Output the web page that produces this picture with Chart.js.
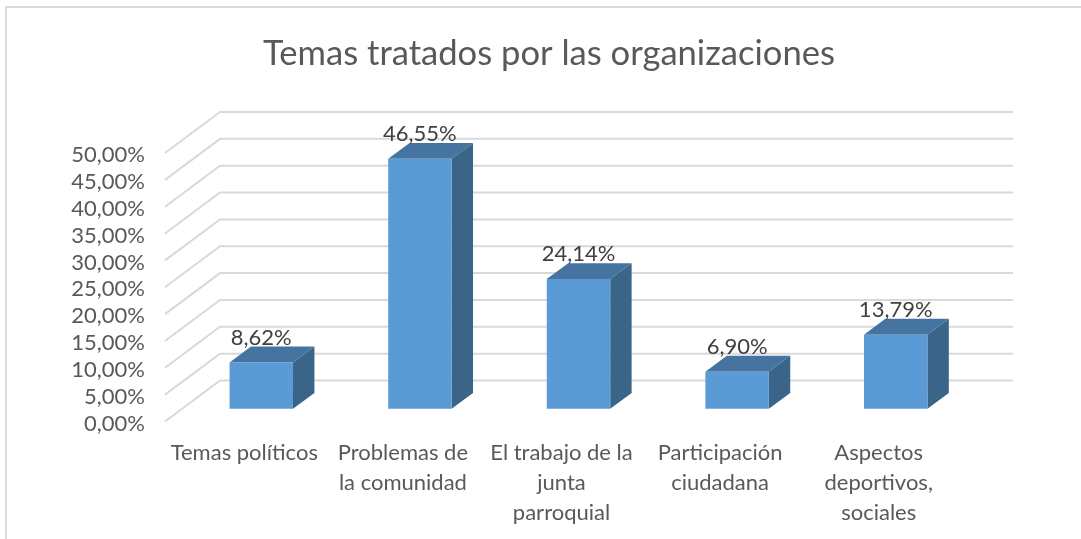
<!DOCTYPE html>
<html><head><meta charset="utf-8">
<style>html,body{margin:0;padding:0;background:#fff}canvas{display:block}</style>
<script src="https://cdn.jsdelivr.net/npm/chart.js@4"></script>
</head><body>
<canvas id="c" width="1081" height="539"></canvas>
<script>
const titleText = 'Temas tratados por las organizaciones';
const categories = [
  ['Temas políticos'],
  ['Problemas de','la comunidad'],
  ['El trabajo de la','junta','parroquial'],
  ['Participación','ciudadana'],
  ['Aspectos','deportivos,','sociales']
];
const seriesValues = [8.62, 46.55, 24.14, 6.90, 13.79];
const axisMin = 0, axisMax = 50, axisStep = 5;

const FONT = 'Lato, Carlito, sans-serif';
const fmt = v => v.toFixed(2).replace('.', ',') + '%';
const WALL = {dx: 55, dy: -41};      // floor depth of the oblique projection
const BAR_OFF = {dx: 17, dy: -12.8}; // bar front plane
const BAR_DEPTH = {dx: 21.4, dy: -15.8};
const COL = {front:'#5b9bd5', top:'#44749f', side:'#3a6488', grid:'#d9d9d9', text:'#404040', axis:'#595959', title:'#595959'};

const threeD = {
  id: 'threeD',
  afterUpdate(chart){
    // nudge value-axis labels down to sit on the Calibri-like baseline of the original
    const y = chart.scales.y;
    if (!y._nudged) {
      const orig = y.drawLabels.bind(y);
      y.drawLabels = function(area){
        const c = chart.ctx; c.save(); c.translate(0, 2); orig(area); c.restore();
      };
      y._nudged = true;
    }
  },
  beforeDraw(chart){
    const c = chart.ctx;
    c.save(); c.strokeStyle = COL.grid; c.lineWidth = 2;
    c.beginPath(); c.moveTo(6, 539); c.lineTo(6, 7); c.lineTo(1081, 7); c.stroke();
    c.restore();
  },
  beforeDatasetsDraw(chart){
    const c = chart.ctx, y = chart.scales.y, a = chart.chartArea;
    c.save(); c.strokeStyle = COL.grid; c.lineWidth = 2; c.lineJoin = 'miter';
    y.ticks.forEach(t => {
      const py = y.getPixelForValue(t.value);
      c.beginPath();
      c.moveTo(a.left, py);
      c.lineTo(a.left + WALL.dx, py + WALL.dy);
      c.lineTo(a.right + WALL.dx, py + WALL.dy);
      c.stroke();
    });
    c.restore();
  },
  beforeDatasetDraw(chart, args){
    const c = chart.ctx;
    c.save();
    c.translate(BAR_OFF.dx, BAR_OFF.dy);
    args.meta.data.forEach(b => {
      const p = b.getProps(['x','y','base','width'], true);
      const l = p.x - p.width/2, r = p.x + p.width/2;
      const {dx, dy} = BAR_DEPTH;
      c.fillStyle = COL.side;
      c.beginPath(); c.moveTo(r, p.y); c.lineTo(r+dx, p.y+dy); c.lineTo(r+dx, p.base+dy); c.lineTo(r, p.base); c.closePath(); c.fill();
      c.fillStyle = COL.top;
      c.beginPath(); c.moveTo(l, p.y); c.lineTo(l+dx, p.y+dy); c.lineTo(r+dx, p.y+dy); c.lineTo(r, p.y); c.closePath(); c.fill();
    });
  },
  afterDatasetDraw(chart){ chart.ctx.restore(); },
  afterDatasetsDraw(chart){
    const c = chart.ctx, meta = chart.getDatasetMeta(0);
    c.save();
    c.font = '22px ' + FONT; c.fillStyle = COL.text; c.textAlign = 'center'; c.textBaseline = 'middle';
    meta.data.forEach((b, i) => {
      const p = b.getProps(['x','y'], true);
      c.fillText(fmt(seriesValues[i]), p.x + BAR_OFF.dx, p.y + BAR_OFF.dy - 25);
    });
    c.restore();
  }
};

new Chart(document.getElementById('c'), {
  type: 'bar',
  data: { labels: categories, datasets: [{ data: seriesValues, backgroundColor: COL.front, borderWidth: 0, barPercentage: 0.4, categoryPercentage: 1, clip: false }] },
  plugins: [threeD],
  options: {
    responsive: false, animation: false, devicePixelRatio: 1,
    layout: { padding: { left: 17, right: 0, top: 0, bottom: 0 } },
    plugins: {
      legend: { display: false }, tooltip: { enabled: false },
      title: { display: true, text: titleText, color: COL.title,
        font: { family: FONT, size: 34.6, weight: 'normal', lineHeight: 1.2 },
        padding: { top: 33, bottom: 78.5 } }
    },
    scales: {
      x: { grid: { display: false }, border: { display: false },
        ticks: { autoSkip: false, maxRotation: 0, minRotation: 0, color: COL.axis, padding: 8,
          font: { family: FONT, size: 22, lineHeight: 1.364 } },
        afterFit(s){ s.height = 117.5; } },
      y: { min: axisMin, max: axisMax, grid: { display: false }, border: { display: false },
        ticks: { stepSize: axisStep, autoSkip: false, color: COL.axis, padding: 12, callback: v => fmt(v),
          font: { family: FONT, size: 22 } },
        afterFit(s){ s.width = 148; } },
      yRight: { position: 'right', display: true, grid: { display: false }, border: { display: false },
        ticks: { display: false }, afterFit(s){ s.width = 123; } }
    }
  }
});
</script>
</body></html>
